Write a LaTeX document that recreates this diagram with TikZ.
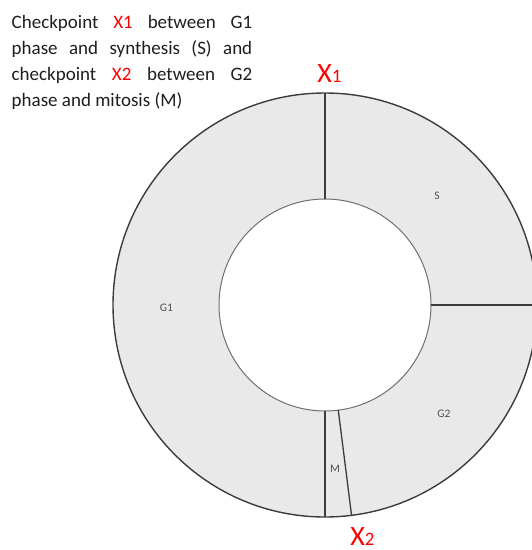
\documentclass[tikz,border=0pt]{standalone}
\usepackage{fontspec}
\usetikzlibrary{calc}
\setmainfont{Carlito}
\definecolor{ringfill}{HTML}{E9E9E9}
\definecolor{ringline}{HTML}{3C3C3C}
\definecolor{innerline}{HTML}{707070}
\definecolor{labelgray}{HTML}{505050}
\definecolor{bodytext}{HTML}{1E1E1E}
\definecolor{markred}{HTML}{FF0000}
\tikzset{
  phaselabel/.style={font=\fontsize{11.5}{13}\selectfont, text=labelgray, inner sep=0pt},
  checkmark/.style={text=markred, inner sep=0pt, anchor=base},
  divider/.style={draw=ringline, line width=1.3pt},
}
\newcommand{\checkname}[1]{{\fontsize{28}{30}\selectfont X}{\fontsize{19}{20}\selectfont #1}}
\begin{document}
\begin{tikzpicture}[x=1pt,y=-1pt]
  \useasboundingbox (0,0) rectangle (532,550);
  \begin{scope}
    \clip (0,0) rectangle (532,550);
    % cell-cycle ring
    \coordinate (c) at (325,305);
    \fill[ringfill, even odd rule] (c) circle[radius=212] (c) circle[radius=106];
    \draw[innerline, line width=1pt] (c) circle[radius=106];
    \draw[ringline, line width=1.4pt] (c) circle[radius=212];
    % phase boundaries
    \draw[divider] ($(c)+(0,-106)$) coordinate (x1in) -- ($(c)+(0,-212)$) coordinate (x1out);
    \draw[divider] ($(c)+(106,0)$) coordinate (sg2in) -- ($(c)+(212,0)$) coordinate (sg2out);
    \draw[divider] ($(c)+(0,106)$) coordinate (mlin) -- ($(c)+(0,212)$) coordinate (mlout);
    \draw[divider] ($(c)+({106*sin(7.2)},{106*cos(7.2)})$) coordinate (mrin) -- ($(c)+({212*sin(7.2)},{212*cos(7.2)})$) coordinate (mrout);
  \end{scope}
  % phase names
  \node[phaselabel] (s)  at (437,196) {S};
  \node[phaselabel] (g1) at (166.5,307.5) {G1};
  \node[phaselabel] (g2) at (444,414) {G2};
  \node[phaselabel] (m)  at (335,468.5) {M};
  % checkpoints
  \node[checkmark] (x1) at (329.5,82) {\checkname{1}};
  \node[checkmark] (x2) at (362.5,545) {\checkname{2}};
  % description
  \node[anchor=base west, inner sep=0pt, text width=240.6pt, align=justify,
        text=bodytext, font=\fontsize{19}{26}\selectfont] (desc) at (11.5,28)
    {Checkpoint \textcolor{markred}{X1} between G1\linebreak
     phase and synthesis (S) and\linebreak
     checkpoint \textcolor{markred}{X2} between G2\linebreak
     phase and mitosis (M)};
\end{tikzpicture}
\end{document}
